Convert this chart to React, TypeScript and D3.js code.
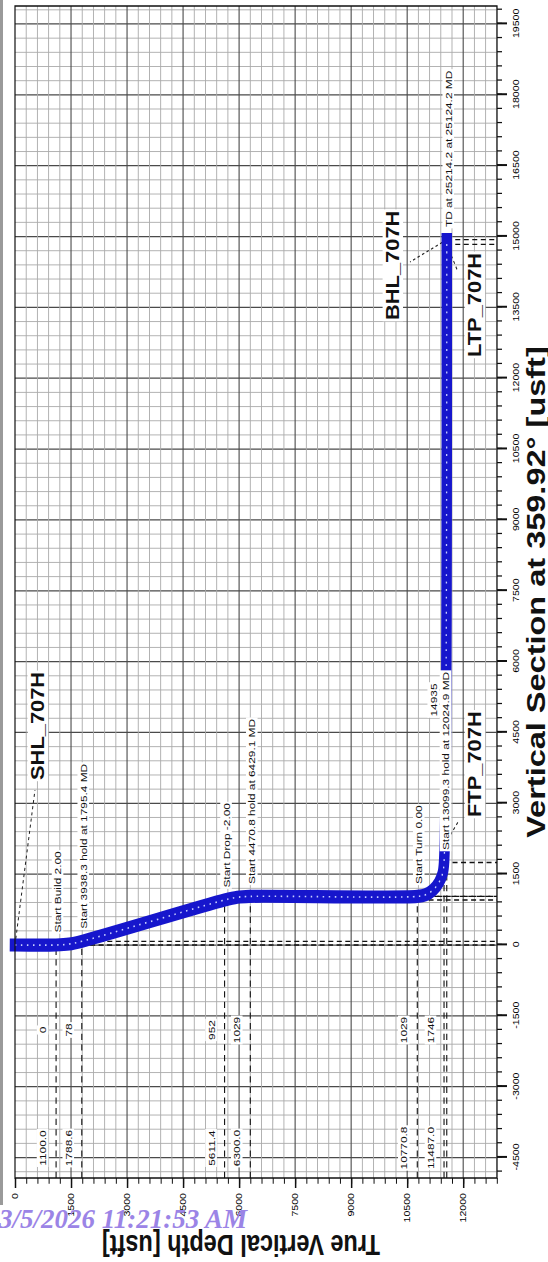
import { useEffect, useRef } from 'react';
import * as d3 from 'd3';

const W = 548;
const H = 1262;
const K = 1.25; // the picture is stretched along the section axis
const FONT = '"Liberation Sans", Arial, sans-serif';

// plan points: vertical section and true vertical depth [usft]
const planVS = [0, 0, 78, 952, 1029, 1029, 1746, 14935];
const planTVD = [0, 1100, 1788.6, 5611.4, 6300, 10770.8, 11487, 11560];
const planNotes = [
  '',
  'Start Build 2.00',
  'Start 3938.3 hold at 1795.4 MD',
  'Start Drop -2.00',
  'Start 4470.8 hold at 6429.1 MD',
  'Start Turn 0.00',
  'Start 13099.3 hold at 12024.9 MD',
  'TD at 25214.2 at 25124.2 MD',
];

// survey stations along the wellbore
const surveyVS = [0, 0, 20, 78, 952, 1010, 1029, 1029, 1064, 1166, 1324, 1524, 1746, 14935];
const surveyTVD = [0, 1100, 1447, 1788.6, 5611.4, 5953, 6300, 10770.8, 10992, 11192, 11350, 11452, 11487, 11560];

// targets
const targetNames = ['SHL_707H', 'FTP_707H', 'LTP_707H', 'BHL_707H'];
const targetVS = [0, 2117, 14835, 14935];
const targetTVD = [0, 11500, 11560, 11560];

const tvdTicks = d3.range(0, 12001, 1500);
const vsTicks = d3.range(-4500, 19501, 1500);

// where the target names sit (section, depth) and where their leaders end
const targetLayout = [
  { vs: 3494, tvd: 776, endVS: 3282, endTVD: 535 },
  { vs: 2710, tvd: 12477, endVS: 2604, endTVD: 11861 },
  { vs: 12450, tvd: 12477, endVS: 14250, endTVD: 11861 },
  { vs: 13233, tvd: 10281, endVS: 14461, endTVD: 10576 },
];

export default function App() {
  const ref = useRef<SVGSVGElement>(null);

  useEffect(() => {
    const svg = d3.select(ref.current);
    svg.selectAll('*').remove();

    const x = d3.scaleLinear().domain([-4933, 19881]).range([67.2, 1004.8]);
    const y = d3.scaleLinear().domain([0, 12905]).range([15, 497]);
    const [x0, x1] = x.range();
    const [y0, y1] = y.range();

    svg.append('rect').attr('width', W).attr('height', H).attr('fill', '#fff');

    // the chart is drawn upright, then turned a quarter left
    const g = svg.append('g').attr('transform', `translate(0,${H}) rotate(-90) scale(${K},1)`);

    // grid
    const grid = g.append('g');
    grid.selectAll('line.v')
      .data(d3.range(-4800, 19881, 300))
      .join('line')
      .attr('x1', d => x(d)).attr('x2', d => x(d))
      .attr('y1', y0).attr('y2', y1)
      .attr('stroke', d => (d % 1500 === 0 ? '#4a4a4a' : '#aaaaaa'))
      .attr('stroke-width', d => (d % 1500 === 0 ? 1 : 0.8));
    grid.selectAll('line.h')
      .data(d3.range(300, 12905, 300))
      .join('line')
      .attr('x1', x0).attr('x2', x1)
      .attr('y1', d => y(d)).attr('y2', d => y(d))
      .attr('stroke', d => (d % 1500 === 0 ? '#4a4a4a' : '#aaaaaa'))
      .attr('stroke-width', d => (d % 1500 === 0 ? 1.1 : 0.9));

    // dashed guides from every plan point to both axes
    const guides = g.append('g')
      .attr('stroke', '#111')
      .attr('stroke-width', 1.1)
      .attr('stroke-dasharray', '5,3.5')
      .attr('fill', 'none');
    planVS.forEach((v, i) => {
      if (i === 0) return;
      const px = x(v);
      const py = y(planTVD[i]);
      guides.append('line').attr('x1', px).attr('x2', px).attr('y1', py).attr('y2', y1);
      guides.append('line').attr('x1', x0).attr('x2', px).attr('y1', py).attr('y2', py);
    });
    guides.append('line')
      .attr('x1', x(targetVS[2])).attr('x2', x(targetVS[2]))
      .attr('y1', y(targetTVD[2])).attr('y2', y1);

    // leaders to the target names
    const leaders = g.append('g')
      .attr('stroke', '#222')
      .attr('stroke-width', 1)
      .attr('stroke-dasharray', '2.5,2.5');
    targetNames.forEach((_, i) => {
      leaders.append('line')
        .attr('x1', x(targetVS[i])).attr('y1', y(targetTVD[i]))
        .attr('x2', x(targetLayout[i].endVS)).attr('y2', y(targetLayout[i].endTVD));
    });

    // wellbore
    const idx = d3.range(surveyVS.length);
    const path = d3.line<number>()
      .x(i => x(surveyVS[i]))
      .y(i => y(surveyTVD[i]))
      .curve(d3.curveCatmullRom.alpha(0.5));
    g.append('path')
      .attr('d', path(idx))
      .attr('fill', 'none')
      .attr('stroke', '#1616cc')
      .attr('stroke-width', 10.5)
      .attr('stroke-linejoin', 'round')
      .attr('stroke-linecap', 'square');
    g.append('path')
      .attr('d', path(idx))
      .attr('fill', 'none')
      .attr('stroke', '#c8d0ff')
      .attr('stroke-width', 1.3)
      .attr('stroke-dasharray', '1.5,4.5');

    // text on a white box
    const boxed = (tx: number, ty: number, text: string, size: number, anchor: string, bold = false) => {
      const lg = g.append('g');
      const rect = lg.append('rect').attr('fill', '#fff');
      const t = lg.append('text')
        .attr('x', tx).attr('y', ty)
        .attr('font-family', FONT)
        .attr('font-size', size)
        .attr('font-weight', bold ? 'bold' : 'normal')
        .attr('text-anchor', anchor)
        .attr('fill', '#111')
        .text(text);
      const b = (t.node() as SVGTextElement).getBBox();
      rect.attr('x', b.x - 1).attr('y', b.y - 0.5).attr('width', b.width + 2).attr('height', b.height + 1);
    };

    planNotes.forEach((note, i) => {
      if (!note) return;
      boxed(x(planVS[i]) + 10, y(planTVD[i]) + 5, note, 9.5, 'start');
    });

    // depth / section pairs down by the depth axis
    planVS.forEach((v, i) => {
      if (i === 0 || i === planVS.length - 1) return;
      const py = y(planTVD[i]) - 10;
      boxed(x0 + 24, py, d3.format('.1f')(planTVD[i]), 9.5, 'middle');
      boxed(x0 + 118.4, py, String(v), 9.5, 'middle');
    });
    const last = planVS.length - 1;
    boxed(x0 + 382.4, y(planTVD[last]) - 10, String(planVS[last]), 9.5, 'middle');

    targetNames.forEach((name, i) => {
      boxed(x(targetLayout[i].vs), y(targetLayout[i].tvd), name, 17.5, 'start', true);
    });

    // axes
    const styleAxis = (s: d3.Selection<SVGGElement, unknown, null, undefined>) => {
      s.select('.domain').remove();
      s.attr('font-family', FONT).attr('font-size', 8.5);
      s.selectAll('line').attr('stroke', '#111');
    };
    g.append('g')
      .attr('transform', `translate(${x0},0)`)
      .call(d3.axisLeft(y).tickValues(d3.range(0, 12905, 300)).tickSize(4.5).tickFormat(() => ''))
      .call(styleAxis);
    g.append('g')
      .attr('transform', `translate(${x0},0)`)
      .call(d3.axisLeft(y).tickValues(tvdTicks).tickSize(8).tickPadding(4).tickFormat(d => String(d)))
      .call(styleAxis)
      .selectAll('line').attr('stroke-width', 1.5);
    g.append('g')
      .attr('transform', `translate(0,${y1})`)
      .call(d3.axisBottom(x).tickValues(d3.range(-4800, 19881, 300)).tickSize(5).tickFormat(() => ''))
      .call(styleAxis);
    g.append('g')
      .attr('transform', `translate(0,${y1})`)
      .call(d3.axisBottom(x).tickValues(vsTicks).tickSize(10).tickPadding(6).tickFormat(d => String(d)))
      .call(styleAxis)
      .selectAll('line').attr('stroke-width', 1.6);

    g.append('rect')
      .attr('x', x0).attr('y', y0)
      .attr('width', x1 - x0).attr('height', y1 - y0)
      .attr('fill', 'none')
      .attr('stroke', '#111')
      .attr('stroke-width', 1.2);

    // axis titles
    g.append('text')
      .attr('x', (x0 + x1) / 2).attr('y', 545)
      .attr('text-anchor', 'middle')
      .attr('font-family', FONT)
      .attr('font-weight', 'bold')
      .attr('font-size', 26)
      .attr('fill', '#111')
      .text('Vertical Section at 359.92° [usft]');
    g.append('text')
      .attr('transform', `translate(22,${(y0 + y1) / 2 - 15}) rotate(-90)`)
      .attr('text-anchor', 'middle')
      .attr('font-family', FONT)
      .attr('font-weight', 'bold')
      .attr('font-size', 23.5)
      .attr('fill', '#111')
      .text('True Vertical Depth [usft]');

    // window edge and print stamp
    svg.append('rect').attr('x', 0).attr('y', 0).attr('width', 3).attr('height', 1205).attr('fill', '#9a9a9a');
    svg.append('text')
      .attr('x', -1).attr('y', 1228)
      .attr('font-family', '"Liberation Serif", "Times New Roman", serif')
      .attr('font-weight', 'bold')
      .attr('font-style', 'italic')
      .attr('font-size', 27)
      .attr('fill', '#9b84e6')
      .text('3/5/2026 11:21:53 AM');
  }, []);

  return (
    <svg
      ref={ref}
      width={W}
      height={H}
      style={{ position: 'absolute', left: 0, top: 0, display: 'block' }}
    />
  );
}
